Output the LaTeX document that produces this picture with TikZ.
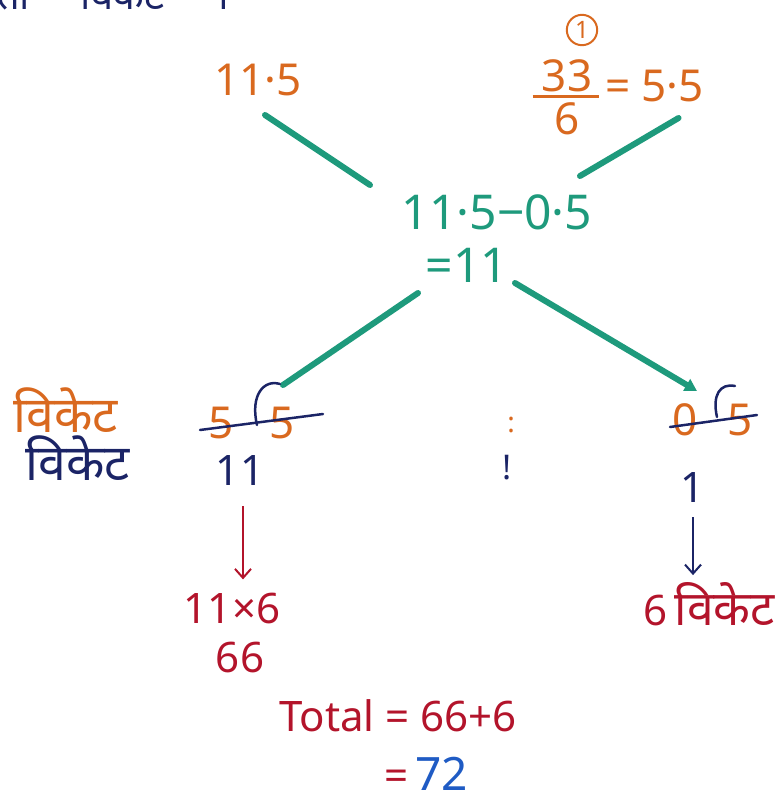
\documentclass[tikz,border=0pt]{standalone}
\usepackage{fontspec}
\setmainfont{Noto Sans}
\newfontfamily\deva[Script=Devanagari]{Noto Sans}
\usetikzlibrary{arrows.meta,positioning,calc}
\definecolor{orng}{HTML}{D9691F}
\definecolor{linkgreen}{HTML}{1E9A7C}
\definecolor{inkblue}{HTML}{1B2466}
\definecolor{inkred}{HTML}{B3142B}
\definecolor{penblue}{HTML}{1F5BC4}

\begin{document}
\begin{tikzpicture}[x=1pt,y=-1pt,
  every node/.style={inner sep=1pt},
  given/.style={text=orng,font=\fontsize{44}{48}\selectfont},
  mixed/.style={text=linkgreen,font=\fontsize{48}{52}\selectfont},
  count/.style={text=inkblue,font=\fontsize{42}{46}\selectfont},
  result/.style={text=inkred,font=\fontsize{42}{46}\selectfont},
  word/.style={font=\deva\fontsize{50}{54}\selectfont},
  link/.style={linkgreen,line width=6pt,line cap=round},
  strike/.style={inkblue,line width=2.5pt,line cap=round},
  down/.style={line width=2pt,-{Straight Barb[length=9pt,width=16pt]}}]
 \useasboundingbox (0,0) rectangle (776,793);
 % heading, cut off by the page edge
 \node[word,font=\deva\fontsize{40}{44}\selectfont,text=inkblue,anchor=base west] (head) at (-4,9) {ता \quad विकेट \quad ।};
 % the two prices
 \node[given] (lval) at (258,80) {11·5};
 \node[given,circle,draw=orng,line width=2pt,inner sep=3pt,
       font=\fontsize{24}{26}\selectfont] (mark) at (582,30) {1};
 \node[given] (num) at (567,76) {33};
 \draw[orng,line width=2.5pt] ($(num.south west)+(-8,3)$) -- ($(num.south east)+(6,3)$);
 \node[given,below=8pt of num] (den) {6};
 \node[given,anchor=west] (rval) at (604,86) {= 5·5};
 % the mean
 \node[mixed] (mid) at (497,212) {11·5−0·5};
 \node[mixed] (eq) at (467,265) {=11};
 \draw[link] ($(lval)+(7,35)$) -- ($(mid)+(-127,-27)$);
 \draw[link] ($(rval)+(24,32)$) -- ($(mid)+(83,-36)$);
 % differences
 \node[given] (lft) at (252,423) {5\hspace{36pt}5};
 \node[given] (rgt) at (713,420) {0\hspace{30pt}5};
 \draw[link] ($(eq)+(-49,28)$) -- ($(lft)+(31,-38)$);
 \draw[link,-{Triangle[length=12pt,width=13pt]}] ($(eq)+(48,18)$) -- ($(rgt)+(-16,-29)$);
 \draw[strike] ($(lft)+(-52,7)$) -- ($(lft)+(71,-9)$);
 \draw[strike] ($(lft)+(5,2)$) .. controls ($(lft)+(-2,-28)$) and ($(lft)+(12,-44)$) .. ($(lft)+(28,-39)$);
 \draw[strike] ($(rgt)+(-43,7)$) -- ($(rgt)+(44,-5)$);
 \draw[strike] ($(rgt)+(4,-3)$) .. controls ($(rgt)+(-1,-25)$) and ($(rgt)+(7,-37)$) .. ($(rgt)+(22,-34)$);
 % labels on the left
 \node[word,text=orng] (wl1) at (66,410) {विकेट};
 \node[word,text=inkblue] (wl2) at (78,458) {विकेट};
 \node[count] (lcnt) at (240,470) {11};
 \node[count] (rcnt) at (693,487) {1};
 \node[text=orng,font=\fontsize{28}{30}\selectfont] (dota) at (511,425) {:};
 \node[count,font=\fontsize{34}{36}\selectfont] (dotb) at (507,468) {!};
 % totals
 \node[result] (prod) at (232,608) {11×6};
 \node[result] (lres) at (240,657) {66};
 \node[result,anchor=east] (rres) at (776,604) {6\,{\deva\fontsize{48}{52}\selectfont विकेट}};
 \draw[down,inkred,shorten <=20pt,shorten >=12pt] ([xshift=3pt]lcnt.south) -- ([xshift=3pt]lcnt.south |- prod.north);
 \draw[down,inkblue,shorten <=14pt,shorten >=6pt] (rcnt.south) -- (rcnt.south |- rres.north);
 \node[result] (tot) at (398,716) {Total = 66+6};
 \node[result] (eqs) at (397,780) {=};
 \node[text=penblue,font=\fontsize{46}{50}\selectfont,right=4pt of eqs,yshift=6pt] (ans) {72};
\end{tikzpicture}
\end{document}
